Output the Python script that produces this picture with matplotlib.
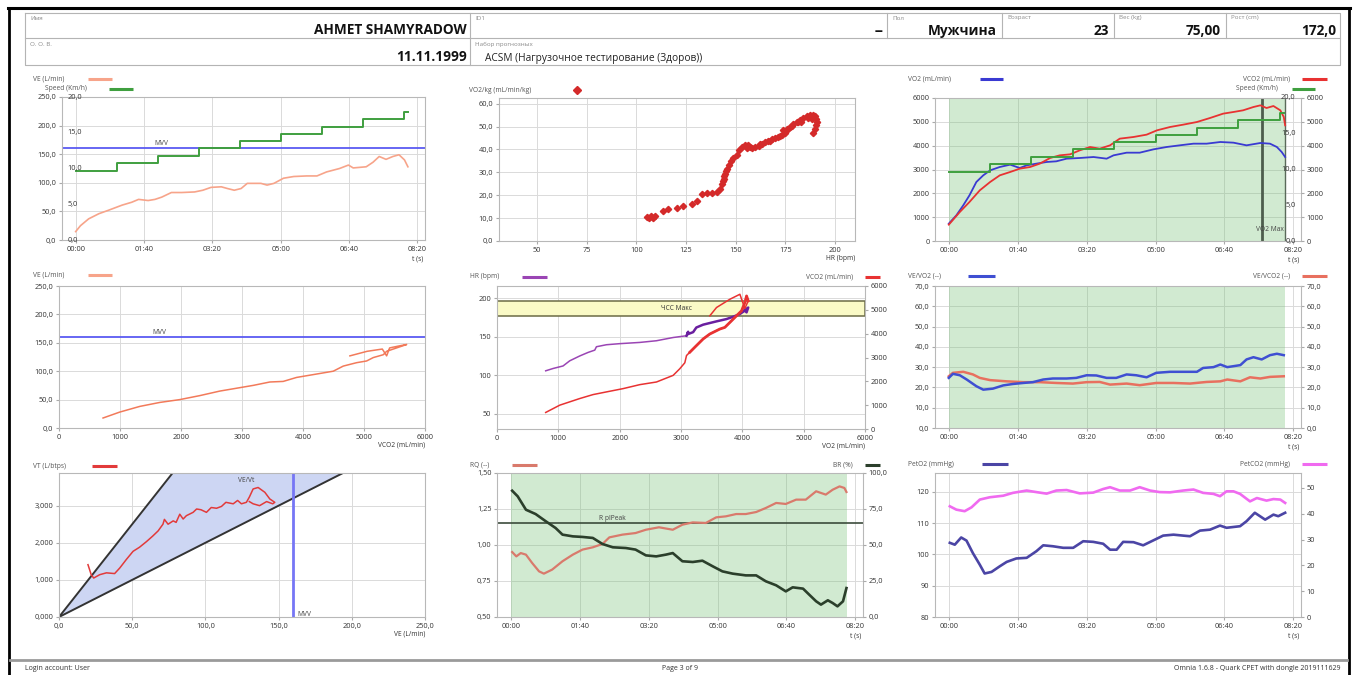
import matplotlib
matplotlib.use('Agg')
import matplotlib.pyplot as plt

plt.rcParams['font.family'] = ['Open Sans', 'DejaVu Sans']

# ---------------- data ----------------
MVV = 160
speed_t = [0, 60, 120, 180, 240, 300, 360, 420, 480, 486]
speed = [9.7, 10.7, 11.8, 12.8, 13.8, 14.8, 15.8, 16.9, 17.9, 17.9]

ve_t = [0, 7, 19, 34, 48, 68, 82, 92, 106, 116, 126, 140, 155, 174, 186, 198, 213, 222, 232, 242,
        251, 271, 280, 290, 304, 319, 338, 353, 367, 386, 399, 406, 425, 435, 444, 454, 464, 473, 481, 486]
ve = [14.7, 25, 37, 46, 52, 61, 66, 71, 69, 71, 75, 83, 83, 84, 87, 92, 93, 90, 87, 90,
      99, 99, 96, 99, 108, 111, 112, 112, 119, 125, 131, 126, 128, 136, 146, 141, 146, 149, 140, 128]

hr_pts = [105.6, 106.5, 107.3, 108.5, 109.5, 113.3, 116.2, 120.4, 123.4, 127.9, 130.5, 133, 135.5, 138,
          140.5, 142.2, 143, 143.5, 143.9, 144.3, 144.7, 145.1, 145.5, 146.4, 147.5, 148.9, 150.6, 151.9,
          153.1, 154.8, 156.4, 158.1, 159.8, 161.5, 163.1, 164.8, 166.5, 168.2, 169.8, 171.5, 173.2, 174,
          174.9, 175.7, 177.4, 179, 180.7, 182.4, 184.1, 185.8, 187.4, 188.8, 190, 190.4, 190.8, 190.4,
          190, 189.1, 186.5, 188.2, 183, 181.5, 178.2, 176.5, 172.4, 167.3, 162.3, 157.2, 155.6]
vo2kg_pts = [10.5, 10.0, 10.9, 10.2, 10.8, 13.0, 14.1, 14.4, 15.3, 16.3, 17.3, 20.7, 20.9, 21.0,
             21.4, 22.9, 25.0, 26.1, 27.2, 28.3, 29.4, 30.5, 31.6, 33.3, 34.8, 36.3, 37.7, 39.6,
             41.1, 41.8, 41.8, 40.6, 41.1, 41.5, 42.5, 43.2, 43.5, 44.4, 45.0, 45.4, 46.2, 48.3,
             47.3, 48.8, 49.8, 51.3, 52.0, 53.1, 53.7, 54.6, 54.9, 55.2, 54.6, 53.4, 51.8, 50.5,
             48.8, 47.0, 53.9, 53.5, 52.2, 51.9, 50.3, 48.9, 45.8, 43.9, 42.2, 41.3, 40.5]

vo2_t = [0, 11, 21, 30, 40, 50, 60, 74, 89, 103, 113, 127, 142, 156, 171, 190, 210, 229, 239, 258,
         277, 297, 316, 335, 355, 374, 394, 413, 432, 452, 466, 476, 483, 488]
vo2 = [727, 1077, 1497, 1916, 2476, 2755, 2965, 3105, 3203, 3063, 3175, 3245, 3315, 3343, 3455, 3483,
       3524, 3455, 3594, 3706, 3706, 3846, 3944, 4014, 4084, 4084, 4154, 4126, 4014, 4112, 4084, 3944,
       3734, 3524]
vco2_t = [0, 16, 30, 45, 60, 74, 89, 103, 118, 132, 147, 161, 176, 190, 205, 219, 234, 248, 268, 287,
          302, 321, 340, 360, 379, 398, 413, 427, 442, 452, 461, 471, 481, 486, 488]
vco2 = [685, 1217, 1636, 2126, 2476, 2755, 2895, 3035, 3105, 3245, 3483, 3594, 3636, 3804, 3944, 3874,
        4014, 4294, 4364, 4462, 4643, 4783, 4881, 4993, 5161, 5343, 5413, 5483, 5622, 5692, 5580, 5664,
        5483, 5203, 4853]
test_end = 488
vo2max_t = 455

p4_vco2 = [722, 995, 1324, 1652, 1980, 2308, 2636, 2964, 3183, 3457, 3675, 3894, 4113, 4332, 4496, 4660,
           4879, 5043, 5152, 5316, 5371, 5535, 5699, 5600, 5420, 5371, 5300, 5050, 4769]
p4_ve = [17.6, 28, 38, 45, 50, 57, 65, 71, 75, 81, 82, 89, 93, 97, 100, 109, 115, 118, 124, 129, 135,
         141, 147, 145, 141, 127, 139, 135, 127]

p5_vo2_hr = [794, 914, 1077, 1186, 1349, 1485, 1594, 1621, 1784, 2001, 2328, 2600, 2872, 3090, 3117,
             3100, 3198, 3250, 3361, 3579, 3742, 3851, 3960, 4041, 4069, 4096, 4041]
p5_hr = [105.7, 108.7, 112, 118.7, 125, 129.6, 132.6, 137, 139.6, 141, 142.6, 144.8, 149, 151.3, 156.5,
         153, 156, 162, 165.7, 170, 173, 176, 179.6, 184, 181.7, 188, 185]
p5_vo2_co2 = [794, 1023, 1349, 1566, 1784, 2056, 2328, 2600, 2872, 2980, 3062, 3090, 3144, 3225, 3361,
              3470, 3633, 3715, 3797, 3905, 3987, 4041, 4069, 4096, 4041, 3960, 3797, 3579, 3470]
p5_vco2 = [694, 1000, 1278, 1444, 1556, 1694, 1861, 1972, 2250, 2528, 2778, 3083, 3222, 3431, 3778,
           3986, 4194, 4264, 4472, 4750, 4958, 5306, 5583, 5375, 5056, 5653, 5444, 5097, 4750]
hr_max_band = (177, 197)

eqo2_t = [0, 6, 16, 26, 40, 50, 64, 79, 93, 108, 122, 137, 151, 171, 185, 200, 214, 229, 243, 258, 272,
          287, 301, 321, 340, 360, 369, 384, 394, 404, 423, 432, 442, 454, 466, 476, 486]
eqo2 = [24.7, 26.7, 26, 23.9, 20.6, 18.9, 19.4, 21, 21.7, 22.2, 22.6, 23.9, 24.4, 24.4, 24.7, 26, 25.9,
        24.7, 24.7, 26.4, 26, 25, 27.2, 27.7, 27.7, 27.7, 29.6, 30, 31.3, 30, 31, 33.8, 34.9, 33.8, 35.9,
        36.6, 35.9]
eqco2_t = [0, 6, 21, 35, 45, 60, 84, 108, 132, 156, 180, 200, 219, 234, 258, 277, 301, 326, 350, 374,
           394, 404, 423, 437, 452, 466, 486]
eqco2 = [25.5, 27.2, 27.7, 26.4, 24.7, 23.6, 23, 22.6, 22.6, 22.2, 21.9, 22.6, 22.7, 21.4, 21.9, 21.1,
         22.2, 22.2, 21.9, 22.7, 23, 23.9, 23, 25, 24.4, 25.2, 25.5]

p7_ve = [19.8, 22, 23.7, 27.8, 32.4, 38, 41.5, 46, 50.6, 55, 59.7, 64, 67.7, 71, 72, 74.5, 78, 80, 82.5,
         84.8, 87, 91.6, 94, 97, 100.7, 104, 107.6, 111, 114, 119, 122, 124.6, 128, 130, 132.6, 136,
         140.6, 144, 147.4, 146, 141.8, 137, 132.6, 130]
p7_vt = [1.41, 1.14, 1.05, 1.14, 1.19, 1.17, 1.32, 1.55, 1.77, 1.88, 2.03, 2.18, 2.32, 2.5, 2.63, 2.5,
         2.59, 2.55, 2.77, 2.64, 2.73, 2.82, 2.91, 2.89, 2.82, 2.95, 2.93, 2.98, 3.09, 3.05, 3.14, 3.05,
         3.09, 3.23, 3.45, 3.49, 3.36, 3.18, 3.09, 3.05, 3.11, 3.0, 3.05, 3.11]
bf_limits = [20, 50]

rq_t = [2, 8, 14.5, 22, 31, 41, 48, 60, 75, 90, 104, 119, 133, 143, 162, 181, 196, 215, 235, 249, 264,
        283, 298, 312, 327, 341, 356, 370, 385, 399, 414, 428, 443, 457, 467, 477, 484, 487]
rq = [0.951, 0.921, 0.944, 0.933, 0.875, 0.817, 0.801, 0.829, 0.887, 0.933, 0.968, 0.984, 1.007, 1.053,
      1.072, 1.083, 1.106, 1.123, 1.106, 1.141, 1.157, 1.153, 1.192, 1.199, 1.215, 1.215, 1.229, 1.257,
      1.292, 1.285, 1.315, 1.315, 1.373, 1.35, 1.384, 1.407, 1.396, 1.368]
br_t = [2, 10, 22, 36, 51, 65, 75, 90, 104, 119, 133, 148, 167, 181, 196, 211, 225, 235, 249, 264, 278,
        293, 307, 322, 341, 356, 370, 385, 399, 409, 424, 433, 443, 450, 460, 467, 474, 482, 487]
br = [87.7, 83.8, 74.5, 71.5, 66.4, 61.8, 57.2, 56, 55.6, 54.9, 50.7, 48.4, 47.9, 46.8, 42.8, 42.1, 43.3,
      44.4, 38.7, 38.2, 39.1, 35.2, 31.7, 30.1, 28.9, 28.9, 24.8, 22, 17.8, 20.6, 19.7, 15.5, 10.9, 8.6,
      11.6, 9.7, 7.4, 10.9, 20.1]
rq_peak = 1.15

peto2_t = [1.5, 8.7, 18, 25.7, 35, 45, 52, 62, 74, 84, 98, 113, 127, 137, 151, 166, 180.5, 195, 209.6,
           224, 234, 243.5, 253, 268, 282, 297, 311, 326, 340, 350, 364.5, 379, 393.5, 403, 422.6, 432,
           444, 459, 471, 478, 488]
peto2 = [103.7, 103.1, 105.4, 104.4, 100.4, 96.7, 93.9, 94.4, 96.2, 97.6, 98.7, 98.9, 101, 102.9, 102.6,
         102.1, 102.1, 104.2, 104, 103.4, 101.5, 101.5, 104, 103.9, 102.9, 104.5, 106, 106.3, 106, 105.8,
         107.6, 107.9, 109.2, 108.5, 109, 110.6, 113.3, 111.1, 112.7, 112.2, 113.3]
petco2_t = [1.5, 11, 23, 33, 45, 59.5, 79, 93, 113, 127, 142, 156, 171, 190, 209.6, 224, 234, 248, 263,
            277, 292, 306, 321, 340, 355, 369, 384, 393.5, 403, 413, 422.6, 437, 447, 461, 471, 481, 488]
petco2 = [42.9, 41.6, 41, 42.5, 45.5, 46.4, 47, 48.1, 49, 48.4, 47.8, 49, 49.2, 47.9, 48.2, 49.6, 50.3,
          49, 49, 50.3, 49, 48.4, 48.3, 49, 49.4, 48.1, 47.7, 46.8, 48.7, 48.7, 47.7, 44.8, 46.1, 45.1,
          45.7, 45.5, 44.2]

time_ticks = [0, 100, 200, 300, 400, 500]
time_labels = ['00:00', '01:40', '03:20', '05:00', '06:40', '08:20']
ve_ticks = [0, 50, 100, 150, 200, 250]
ve_labels = ['0,0', '50,0', '100,0', '150,0', '200,0', '250,0']
spd_ticks = [0, 5, 10, 15, 20]
spd_labels = ['0,0', '5,0', '10,0', '15,0', '20,0']
vol_ticks = [0, 1000, 2000, 3000, 4000, 5000, 6000]
vol_labels = ['0', '1000', '2000', '3000', '4000', '5000', '6000']
hrx_ticks = [50, 75, 100, 125, 150, 175, 200]
hrx_labels = ['50', '75', '100', '125', '150', '175', '200']
vo2kg_ticks = [0, 10, 20, 30, 40, 50, 60]
vo2kg_labels = ['0,0', '10,0', '20,0', '30,0', '40,0', '50,0', '60,0']
hr_ticks = [50, 100, 150, 200]
hr_labels = ['50', '100', '150', '200']
eq_ticks = [0, 10, 20, 30, 40, 50, 60, 70]
eq_labels = ['0,0', '10,0', '20,0', '30,0', '40,0', '50,0', '60,0', '70,0']
vt_ticks = [0, 1, 2, 3]
vt_labels = ['0,000', '1,000', '2,000', '3,000']
rq_ticks = [0.5, 0.75, 1.0, 1.25, 1.5]
rq_labels = ['0,50', '0,75', '1,00', '1,25', '1,50']
br_ticks = [0, 25, 50, 75, 100]
br_labels = ['0,0', '25,0', '50,0', '75,0', '100,0']
po2_ticks = [80, 90, 100, 110, 120]
po2_labels = ['80', '90', '100', '110', '120']
pco2_ticks = [0, 10, 20, 30, 40, 50]
pco2_labels = ['0', '10', '20', '30', '40', '50']

# ---------------- figure ----------------
W, H = 1357, 675
fig = plt.figure(figsize=(W / 100, H / 100), dpi=100)


def rect(x0, y0, x1, y1):
    return [x0 / W, 1 - y1 / H, (x1 - x0) / W, (y1 - y0) / H]


bg = fig.add_axes([0, 0, 1, 1], zorder=-10)
bg.set_xlim(0, W)
bg.set_ylim(H, 0)
bg.axis('off')

# page frame
bg.plot([9, 9], [8, 675], color='black', lw=2)
bg.plot([1349, 1349], [8, 675], color='black', lw=2)
bg.plot([8, 1350], [8, 8], color='black', lw=2.2)

# header table
gc = '#b4b4b4'
bg.plot([25, 1340, 1340, 25, 25], [13, 13, 65, 65, 13], color=gc, lw=0.8)
bg.plot([25, 1340], [38, 38], color=gc, lw=0.8)
for xd in [470, 887, 1002, 1114, 1226]:
    bg.plot([xd, xd], [13, 38], color=gc, lw=0.8)
bg.plot([470, 470], [38, 65], color=gc, lw=0.8)

lab = dict(fontsize=4.5, color='#8a8a8a', va='center', ha='left')
val = dict(fontsize=9.8, color='#111111', va='center', ha='right', fontweight='bold')
bg.text(30, 18, 'Имя', **lab)
bg.text(467, 30, 'AHMET SHAMYRADOW', **val)
bg.text(475, 18, 'ID1', **lab)
bg.text(883, 31, '--', **val)
bg.text(892, 18, 'Пол', **lab)
bg.text(997, 31, 'Мужчина', **val)
bg.text(1007, 18, 'Возраст', **lab)
bg.text(1109, 31, '23', **val)
bg.text(1119, 18, 'Вес (kg)', **lab)
bg.text(1221, 31, '75,00', **val)
bg.text(1231, 18, 'Рост (cm)', **lab)
bg.text(1336, 31, '172,0', **val)
bg.text(30, 44, 'О. О. В.', **lab)
bg.text(467, 57, '11.11.1999', **val)
bg.text(475, 44, 'Набор прогнозных', **lab)
bg.text(485, 58, 'ACSM (Нагрузочное тестирование (Здоров))', fontsize=7.3, color='#222222',
        va='center', ha='left')

# footer
bg.plot([10, 1347], [660, 660], color='#9a9a9a', lw=2)
ft = dict(fontsize=5, color='#333333', va='center')
bg.text(25, 669, 'Login account: User', ha='left', **ft)
bg.text(680, 669, 'Page 3 of 9', ha='center', **ft)
bg.text(1340, 669, 'Omnia 1.6.8 - Quark CPET with dongle 2019111629', ha='right', **ft)

# colours
C_VE = '#f7a48a'
C_VE2 = '#f27a5a'
C_SPD = '#3f9f3f'
C_MVV = '#5a5af2'
C_VO2 = '#3a3ad2'
C_VCO2 = '#e83232'
C_GREEN = '#7cc47c'
C_HR = '#9a45b4'
C_HR2 = '#6a1f9f'
C_EQO2 = '#3f4fd2'
C_EQCO2 = '#e8705f'
C_VT = '#e23a3a'
C_RQ = '#d97a6c'
C_BR = '#2b3f2b'
C_PO2 = '#4b45a5'
C_PCO2 = '#f06af0'
TXT = '#333333'


def legend(text, x, y, lx0, lx1, color, ha='left', lw=2.2, marker=None):
    bg.text(x, y, text, fontsize=4.8, color='#555555', ha=ha, va='center')
    if marker:
        bg.plot([(lx0 + lx1) / 2], [y], marker=marker, color=color, ms=4, ls='none')
    else:
        bg.plot([lx0, lx1], [y, y], color=color, lw=lw, solid_capstyle='butt')


def style(ax):
    for s in ax.spines.values():
        s.set_color('#b8b8b8')
        s.set_linewidth(0.8)
    ax.grid(True, color='#dadada', lw=0.7)
    ax.set_axisbelow(True)
    ax.tick_params(labelsize=5.3, length=2, color='#aaaaaa', labelcolor=TXT, pad=2)


def twin(ax):
    t = ax.twinx()
    for s in t.spines.values():
        s.set_visible(False)
    t.tick_params(labelsize=5.3, length=2, color='#aaaaaa', labelcolor=TXT, pad=2)
    return t


def ticks_y(ax, v, l):
    ax.set_yticks(v)
    ax.set_yticklabels(l)


def ticks_x(ax, v, l):
    ax.set_xticks(v)
    ax.set_xticklabels(l)


def time_axis(ax):
    ax.set_xlim(-20, 511)
    ticks_x(ax, time_ticks, time_labels)
    ax.text(500, -0.11, 't (s)', transform=ax.get_xaxis_transform(), fontsize=4.8, color=TXT,
            ha='center', va='top')


def xlabel(ax, text):
    ax.text(1.0, -0.095, text, transform=ax.transAxes, fontsize=4.8, color=TXT, ha='right', va='top')


def inner_labels(ax, vals, labels, x, ha):
    ax.set_yticks([])
    for v, l in zip(vals, labels):
        ax.text(x, v, l, transform=ax.get_yaxis_transform(), fontsize=5.3, color=TXT, ha=ha, va='center')


# ---- panel 1: VE & speed vs time
ax = fig.add_axes(rect(62, 97, 425, 240))
style(ax)
time_axis(ax)
ax.set_ylim(0, 250)
ticks_y(ax, ve_ticks, ve_labels)
ax.plot(ve_t, ve, color=C_VE, lw=1.2)
ax.axhline(MVV, color=C_MVV, lw=1.3)
ax.text(126, MVV + 2, 'MVV', fontsize=4.8, color='#444444', ha='center', va='bottom')
axs = twin(ax)
axs.set_ylim(0, 20)
inner_labels(axs, spd_ticks, spd_labels, 0.015, 'left')
axs.plot(speed_t, speed, drawstyle='steps-post', color=C_SPD, lw=1.4)
legend('VE (L/min)', 33, 79, 88, 112, C_VE)
legend('Speed (Km/h)', 45, 89, 109, 133, C_SPD)

# ---- panel 2: VO2/kg vs HR
ax = fig.add_axes(rect(499, 98, 855, 241))
style(ax)
ax.set_xlim(31, 210)
ax.set_ylim(0, 62.5)
ticks_x(ax, hrx_ticks, hrx_labels)
ticks_y(ax, vo2kg_ticks, vo2kg_labels)
ax.plot(hr_pts, vo2kg_pts, ls='none', marker='D', ms=3.2, color='#d42a2a')
xlabel(ax, 'HR (bpm)')
legend('VO2/kg (mL/min/kg)', 469, 90, 570, 584, '#d42a2a', marker='D')

# ---- panel 3: VO2, VCO2, speed vs time
ax = fig.add_axes(rect(935, 98, 1301, 241))
style(ax)
time_axis(ax)
ax.set_ylim(0, 6000)
ticks_y(ax, vol_ticks, vol_labels)
ax.axvspan(0, test_end, color=C_GREEN, alpha=0.35, lw=0)
ax.axvline(vo2max_t, color='#4d5d4d', lw=2)
ax.axvline(test_end, color='#5a6a5a', lw=1)
ax.text(466, 500, 'VO2 Max', fontsize=4.8, color='#444444', ha='center', va='center')
axr = twin(ax)
axr.set_ylim(0, 6000)
ticks_y(axr, vol_ticks, vol_labels)
axs = twin(ax)
axs.set_ylim(0, 20)
inner_labels(axs, spd_ticks, spd_labels, 0.985, 'right')
axs.plot(speed_t, speed, drawstyle='steps-post', color=C_SPD, lw=1.4)
ax.plot(vo2_t, vo2, color=C_VO2, lw=1.3)
axr.plot(vco2_t, vco2, color=C_VCO2, lw=1.3)
legend('VO2 (mL/min)', 908, 79, 980, 1003, C_VO2)
legend('VCO2 (mL/min)', 1290, 79, 1302, 1327, C_VCO2, ha='right')
legend('Speed (Km/h)', 1278, 89, 1292, 1315, C_SPD, ha='right')

# ---- panel 4: VE vs VCO2
ax = fig.add_axes(rect(59, 286, 425, 428))
style(ax)
ax.set_xlim(0, 6000)
ax.set_ylim(0, 250)
ticks_x(ax, vol_ticks, vol_labels)
ticks_y(ax, ve_ticks, ve_labels)
ax.axhline(MVV, color=C_MVV, lw=1.3)
ax.text(1652, MVV + 2, 'MVV', fontsize=4.8, color='#444444', ha='center', va='bottom')
ax.plot(p4_vco2, p4_ve, color=C_VE2, lw=1.1)
xlabel(ax, 'VCO2 (mL/min)')
legend('VE (L/min)', 33, 275, 88, 112, C_VE)

# ---- panel 5: HR & VCO2 vs VO2
ax = fig.add_axes(rect(497, 286, 865, 429))
style(ax)
ax.set_xlim(0, 6000)
ax.set_ylim(30, 216)
ticks_x(ax, vol_ticks, vol_labels)
ticks_y(ax, hr_ticks, hr_labels)
ax.axhspan(hr_max_band[0], hr_max_band[1], facecolor='#fafac6', edgecolor='#6b6b45', lw=1.1)
ax.text(2927, sum(hr_max_band) / 2, 'ЧСС Макс', fontsize=4.8, color='#333333', ha='center',
        va='center')
axr = twin(ax)
axr.set_ylim(0, 6000)
ticks_y(axr, vol_ticks, vol_labels)
ax.plot(p5_vo2_hr[:14], p5_hr[:14], color=C_HR, lw=1.1)
ax.plot(p5_vo2_hr[13:], p5_hr[13:], color=C_HR2, lw=1.8)
axr.plot(p5_vo2_co2, p5_vco2, color=C_VCO2, lw=1.1)
axr.plot(p5_vo2_co2[12:24], p5_vco2[12:24], color=C_VCO2, lw=2)
xlabel(ax, 'VO2 (mL/min)')
legend('HR (bpm)', 470, 277, 522, 547, C_HR)
legend('VCO2 (mL/min)', 853, 277, 865, 880, C_VCO2, ha='right')

# ---- panel 6: ventilatory equivalents
ax = fig.add_axes(rect(935, 286, 1301, 428))
style(ax)
time_axis(ax)
ax.set_ylim(0, 70)
ticks_y(ax, eq_ticks, eq_labels)
ax.tick_params(axis='y', right=True, labelright=True)
ax.axvspan(0, test_end, color=C_GREEN, alpha=0.35, lw=0)
ax.plot(eqco2_t, eqco2, color=C_EQCO2, lw=1.8)
ax.plot(eqo2_t, eqo2, color=C_EQO2, lw=1.8)
legend('VE/VO2 (--)', 908, 276, 968, 995, C_EQO2)
legend('VE/VCO2 (--)', 1290, 276, 1302, 1327, C_EQCO2, ha='right')

# ---- panel 7: VT vs VE
ax = fig.add_axes(rect(59, 473, 425, 617))
style(ax)
ax.set_xlim(0, 250)
ax.set_ylim(0, 3.88)
ticks_x(ax, ve_ticks, ve_labels)
ticks_y(ax, vt_ticks, vt_labels)
xs = [0, 250]
ax.fill_between(xs, [x / bf_limits[1] for x in xs], [x / bf_limits[0] for x in xs],
                color='#cdd6f3', lw=0)
for f in bf_limits:
    ax.plot(xs, [x / f for x in xs], color='#333333', lw=1.4)
ax.axvline(MVV, color='#7676f5', lw=2)
ax.text(MVV + 3, 0.08, 'MVV', fontsize=4.8, color='#444444', ha='left', va='center')
ax.text(128, 3.68, 'VE/Vt', fontsize=4.8, color='#444444', ha='center', va='center')
ax.plot(p7_ve, p7_vt, color=C_VT, lw=1.1)
xlabel(ax, 'VE (L/min)')
legend('VT (L/btps)', 33, 466, 92, 117, C_VT)

# ---- panel 8: RQ & BR
ax = fig.add_axes(rect(497, 473, 863, 617))
style(ax)
time_axis(ax)
ax.set_ylim(0.5, 1.5)
ticks_y(ax, rq_ticks, rq_labels)
ax.axvspan(0, test_end, color=C_GREEN, alpha=0.35, lw=0)
ax.axhline(rq_peak, color='#3c4c3c', lw=1.2)
ax.text(148, rq_peak + 0.01, 'R plPeak', fontsize=4.8, color='#444444', ha='center', va='bottom')
axr = twin(ax)
axr.set_ylim(0, 100)
ticks_y(axr, br_ticks, br_labels)
ax.plot(rq_t, rq, color=C_RQ, lw=1.6)
axr.plot(br_t, br, color=C_BR, lw=1.9)
legend('RQ (--)', 470, 465, 512, 537, C_RQ)
legend('BR (%)', 853, 465, 865, 880, C_BR, ha='right')

# ---- panel 9: PetO2 & PetCO2
ax = fig.add_axes(rect(935, 473, 1301, 617))
style(ax)
time_axis(ax)
ax.set_ylim(80, 126)
ticks_y(ax, po2_ticks, po2_labels)
axr = twin(ax)
axr.set_ylim(0, 55.8)
ticks_y(axr, pco2_ticks, pco2_labels)
ax.plot(peto2_t, peto2, color=C_PO2, lw=1.9)
axr.plot(petco2_t, petco2, color=C_PCO2, lw=1.9)
legend('PetO2 (mmHg)', 908, 464, 982, 1008, C_PO2)
legend('PetCO2 (mmHg)', 1290, 464, 1302, 1327, C_PCO2, ha='right')

fig.savefig('out.png', dpi=100)
